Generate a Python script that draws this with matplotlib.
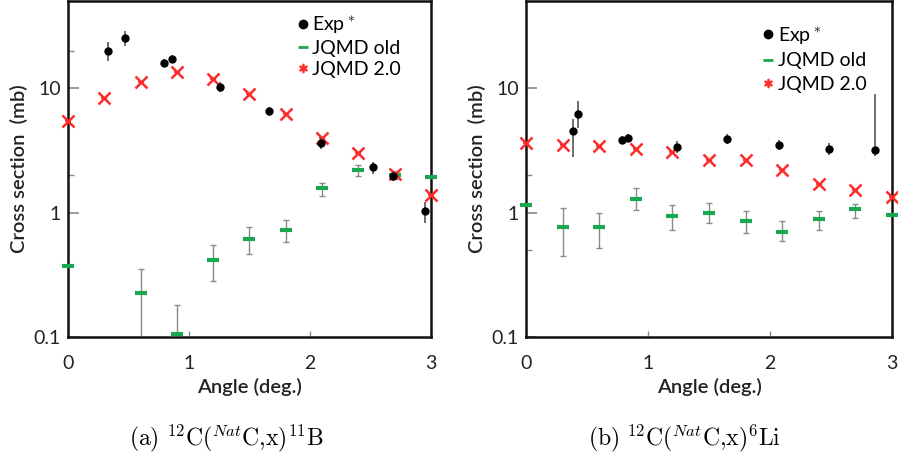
import matplotlib
matplotlib.use("Agg")
import matplotlib.pyplot as plt
from matplotlib.lines import Line2D
from matplotlib.ticker import FixedLocator, NullFormatter
import numpy as np

plt.rcParams['font.family'] = ['Lato', 'DejaVu Sans']
plt.rcParams['mathtext.fontset'] = 'cm'

# ---------------- Data: (a) 12C(NatC,x)11B ----------------
a_exp_x = [0.33, 0.47, 0.79, 0.86, 1.26, 1.66, 2.09, 2.52, 2.69, 2.95]
a_exp_y = [19.8, 25.2, 15.9, 17.1, 10.2, 6.5, 3.6, 2.3, 1.95, 1.02]
a_exp_lo = [3.2, 3.5, 1.2, 1.3, 0.9, 0.5, 0.35, 0.25, 0.15, 0.2]
a_exp_hi = [3.5, 3.4, 1.2, 1.4, 0.9, 0.5, 0.35, 0.25, 0.15, 0.2]

a_new_x = [0.0, 0.3, 0.6, 0.9, 1.2, 1.5, 1.8, 2.1, 2.4, 2.7, 3.0]
a_new_y = [5.4, 8.3, 11.2, 13.4, 11.8, 8.95, 6.2, 4.0, 3.0, 2.04, 1.38]

a_old_x = [0.0, 0.6, 0.9, 1.2, 1.5, 1.8, 2.1, 2.4, 2.7, 3.0]
a_old_y = [0.37, 0.226, 0.106, 0.415, 0.61, 0.72, 1.57, 2.19, 2.0, 1.93]
a_old_lo = [0.0, 0.15, 0.08, 0.135, 0.15, 0.14, 0.21, 0.23, 0.15, 0.0]
a_old_hi = [0.0, 0.124, 0.074, 0.135, 0.16, 0.15, 0.17, 0.21, 0.15, 0.0]

# ---------------- Data: (b) 12C(NatC,x)6Li ----------------
b_exp_x = [0.385, 0.43, 0.79, 0.84, 1.24, 1.65, 2.07, 2.48, 2.86]
b_exp_y = [4.5, 6.2, 3.84, 3.98, 3.37, 3.9, 3.5, 3.25, 3.19]
b_exp_lo = [1.7, 1.4, 0.3, 0.3, 0.35, 0.35, 0.35, 0.35, 0.35]
b_exp_hi = [1.1, 1.7, 0.3, 0.3, 0.35, 0.35, 0.35, 0.35, 5.7]

b_new_x = [0.0, 0.3, 0.6, 0.9, 1.2, 1.5, 1.8, 2.1, 2.4, 2.7, 3.0]
b_new_y = [3.63, 3.5, 3.43, 3.25, 3.07, 2.65, 2.65, 2.21, 1.71, 1.53, 1.32]

b_old_x = [0.0, 0.3, 0.6, 0.9, 1.2, 1.5, 1.8, 2.1, 2.4, 2.7, 3.0]
b_old_y = [1.14, 0.76, 0.76, 1.29, 0.93, 1.0, 0.85, 0.70, 0.88, 1.06, 0.96]
b_old_lo = [0.0, 0.31, 0.24, 0.25, 0.20, 0.18, 0.16, 0.11, 0.15, 0.16, 0.0]
b_old_hi = [0.0, 0.32, 0.24, 0.29, 0.21, 0.20, 0.17, 0.15, 0.14, 0.12, 0.0]

xticks = [0, 1, 2, 3]
yticks = [0.1, 1, 10]
ytick_labels = ['0.1', '1', '10']
legend_labels = ['Exp$^*$', 'JQMD old', 'JQMD 2.0']
xlabel = 'Angle (deg.)'
ylabel = 'Cross section  (mb)'
captions = [r'$\mathrm{(a)}\ {}^{12}\mathrm{C}(^{Nat}\mathrm{C{,}x})^{11}\mathrm{B}$',
            r'$\mathrm{(b)}\ {}^{12}\mathrm{C}(^{Nat}\mathrm{C{,}x})^{6}\mathrm{Li}$']

GREEN = '#17a850'
RED = '#ff2a2a'
GRAY = '#8a8a8a'

fig = plt.figure(figsize=(8.98, 4.62), dpi=100)
W, H = 898, 462
axA = fig.add_axes([68 / W, (H - 337) / H, 363 / W, 336 / H])
axB = fig.add_axes([526 / W, (H - 337) / H, 366 / W, 336 / H])


def draw(ax, ex, ey, elo, ehi, nx, ny, ox, oy, olo, ohi, minors, leg_anchor, lspace):
    ax.set_yscale('log')
    ax.set_xlim(0, 3)
    ax.set_ylim(0.1, 50)
    # JQMD old with error bars
    ax.errorbar(ox, oy, yerr=[olo, ohi], fmt='none', ecolor=GRAY, elinewidth=1.0,
                capsize=2.5, capthick=1.0, zorder=2, clip_on=True)
    ax.plot(ox, oy, ls='none', marker='_', ms=8, mew=3, color=GREEN, zorder=3, clip_on=False)
    # JQMD 2.0
    ax.plot(nx, ny, ls='none', marker='x', ms=8, mew=1.8, color=RED, zorder=4, clip_on=False)
    ax.plot(nx, ny, ls='none', marker='_', ms=5, mew=1.3, color=RED, zorder=4, clip_on=False)
    # Experiment
    ax.errorbar(ex, ey, yerr=[elo, ehi], fmt='none', ecolor='#555555', elinewidth=1.2,
                capsize=0, zorder=5)
    ax.plot(ex, ey, ls='none', marker='o', ms=5, color='black', zorder=6, clip_on=False)

    ax.set_xticks(xticks)
    ax.set_xticklabels([str(t) for t in xticks])
    ax.set_yticks(yticks)
    ax.set_yticklabels(ytick_labels)
    ax.yaxis.set_minor_locator(FixedLocator(minors))
    ax.yaxis.set_minor_formatter(NullFormatter())
    ax.xaxis.set_minor_locator(FixedLocator([]))
    ax.tick_params(axis='both', which='both', direction='in', colors=GRAY,
                   labelcolor='#222222', labelsize=14)
    ax.tick_params(axis='y', which='major', length=8, width=1.2, pad=5)
    ax.tick_params(axis='y', which='minor', length=4, width=1.0)
    ax.tick_params(axis='x', which='major', length=4, width=1.0, pad=13)
    ax.tick_params(top=False, right=False)
    for s in ax.spines.values():
        s.set_linewidth(1.8)
        s.set_color('#111111')
    ax.set_xlabel(xlabel, fontsize=14.5, fontweight='semibold', color='#222222', labelpad=4)
    ax.set_ylabel(ylabel, fontsize=14.5, fontweight='semibold', color='#222222', labelpad=4)

    handles = [
        Line2D([], [], ls='none', marker='o', ms=6, color='black'),
        Line2D([], [], ls='none', marker='_', ms=7, mew=2, color=GREEN),
        Line2D([], [], ls='none', marker='$*$', ms=6, color=RED),
    ]
    ax.legend(handles, legend_labels, loc='upper left', bbox_to_anchor=leg_anchor,
              frameon=False, fontsize=14, handlelength=0.6, handletextpad=0.2,
              labelspacing=lspace, borderpad=0, borderaxespad=0)


draw(axA, a_exp_x, a_exp_y, a_exp_lo, a_exp_hi, a_new_x, a_new_y,
     a_old_x, a_old_y, a_old_lo, a_old_hi, [2, 20], (0.63, 0.96), 0.22)
draw(axB, b_exp_x, b_exp_y, b_exp_lo, b_exp_hi, b_new_x, b_new_y,
     b_old_x, b_old_y, b_old_lo, b_old_hi, [0.5, 2], (0.645, 0.93), 0.35)

fig.text(226 / W, 1 - 438 / H, captions[0], ha='center', va='center', fontsize=17)
fig.text(684 / W, 1 - 438 / H, captions[1], ha='center', va='center', fontsize=17)

fig.savefig('out.png', dpi=100)
